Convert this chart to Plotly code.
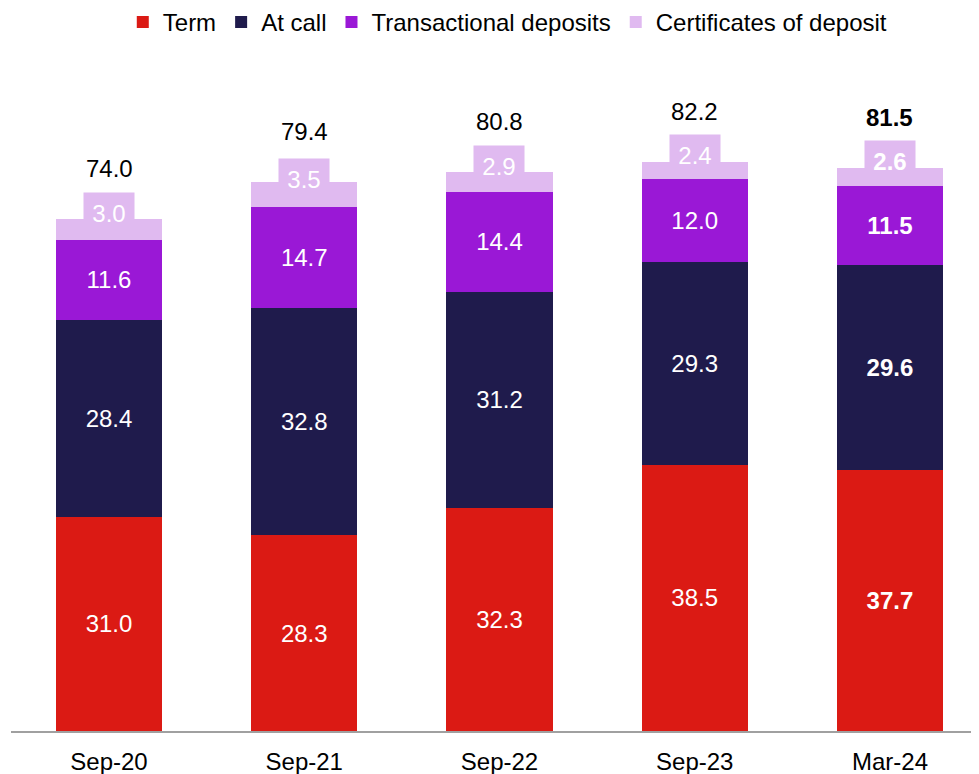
import plotly.graph_objects as go

categories = ["Sep-20", "Sep-21", "Sep-22", "Sep-23", "Mar-24"]
term = [31.0, 28.3, 32.3, 38.5, 37.7]
at_call = [28.4, 32.8, 31.2, 29.3, 29.6]
transactional = [11.6, 14.7, 14.4, 12.0, 11.5]
certificates = [3.0, 3.5, 2.9, 2.4, 2.6]
totals = [74.0, 79.4, 80.8, 82.2, 81.5]

FONT = "Liberation Sans, Arial, sans-serif"
colours = {"Term": "#DB1A14", "At call": "#1F1B4C",
           "Transactional deposits": "#9A18D6", "Certificates of deposit": "#E0BAF0"}


# bold the last period like the source slide
def fmt(vals):
    out = []
    for i, v in enumerate(vals):
        s = f"{v:.1f}"
        out.append(f"<b>{s}</b>" if i == len(vals) - 1 else s)
    return out


fig = go.Figure()
for name, vals in [("Term", term), ("At call", at_call),
                   ("Transactional deposits", transactional)]:
    fig.add_trace(go.Bar(
        x=categories, y=vals, name=name,
        marker=dict(color=colours[name], line=dict(width=0)),
        text=fmt(vals), textposition="inside", insidetextanchor="middle",
        textangle=0, constraintext="none",
        textfont=dict(color="white", size=24, family=FONT)))

fig.add_trace(go.Bar(
    x=categories, y=certificates, name="Certificates of deposit",
    marker=dict(color=colours["Certificates of deposit"], line=dict(width=0))))

# certificate labels sit in a little box poking out of the segment
cd_labels = fmt(certificates)
tot_labels = fmt(totals)
for i, c in enumerate(categories):
    base = term[i] + at_call[i] + transactional[i]
    fig.add_annotation(x=c, y=base + certificates[i] / 2, text=cd_labels[i],
                       showarrow=False, yshift=16, width=50, height=40,
                       bgcolor=colours["Certificates of deposit"], borderpad=0,
                       font=dict(color="white", size=24, family=FONT))
    fig.add_annotation(x=c, y=base + certificates[i], text=tot_labels[i],
                       showarrow=False, yanchor="bottom", yshift=35,
                       font=dict(color="black", size=24, family=FONT))

fig.update_layout(
    barmode="stack", bargap=0.457,
    width=979, height=774,
    margin=dict(l=3, r=0, t=52, b=51, autoexpand=False),
    plot_bgcolor="white", paper_bgcolor="white",
    font=dict(family=FONT, size=24, color="black"),
    legend=dict(orientation="h", x=0.509, xanchor="center", y=1.056, yanchor="middle",
                traceorder="normal", font=dict(size=24, family=FONT), itemwidth=30),
    showlegend=True,
)
fig.update_xaxes(showline=True, linecolor="#A0A0A0", linewidth=2, ticks="",
                 range=[-0.502, 4.497], ticklabelstandoff=8,
                 tickfont=dict(size=24, family=FONT))
fig.update_yaxes(visible=False, range=[0, 97], showgrid=False)

fig.write_html("out.html")
